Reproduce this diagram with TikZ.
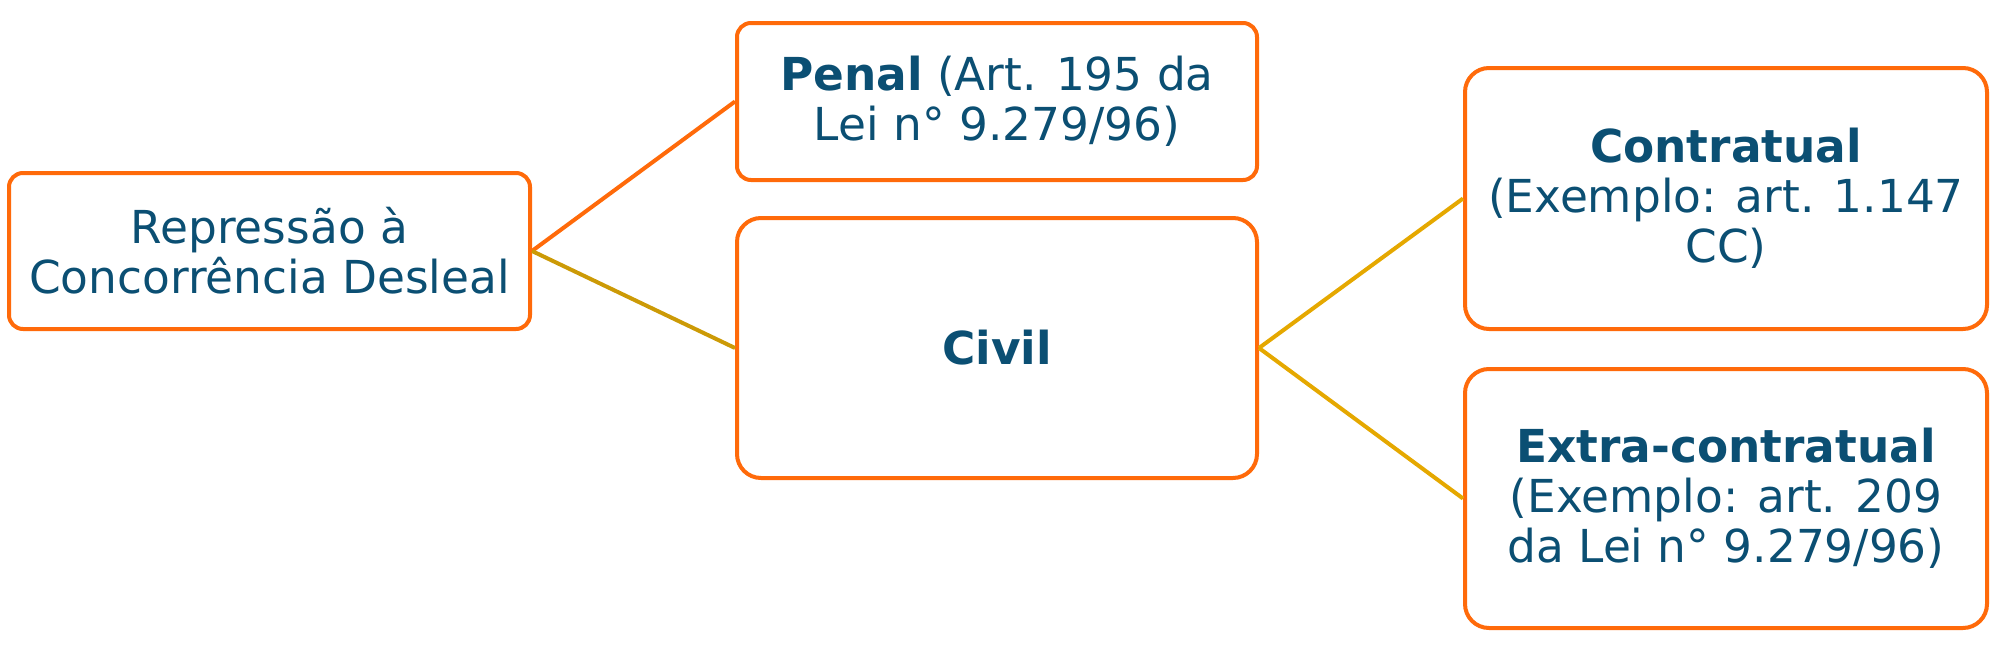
\documentclass[tikz,border=0pt]{standalone}
\usepackage{fontspec}
\setmainfont{DejaVu Sans}
\definecolor{boxorange}{HTML}{FF6A0A}
\definecolor{txtblue}{HTML}{0B4F73}
\definecolor{lineA}{HTML}{CC9A06}
\definecolor{lineB}{HTML}{E5A800}
\tikzset{
  px/.style={x=0.5pt,y=-0.5pt},
  box/.style={draw=boxorange,line width=2pt,fill=white,align=center,text=txtblue,
    font=\fontsize{22.7}{25}\selectfont,inner sep=0pt},
  smallbox/.style={box,rounded corners=7pt},
  bigbox/.style={box,rounded corners=12pt},
  conn/.style={line width=2pt}
}
\begin{document}
\begin{tikzpicture}[px]
\useasboundingbox (0,0) rectangle (2014,653);
\node[smallbox,minimum width=260.5pt,minimum height=78pt] (rep) at (269.5,251)
  {Repressão à\\Concorrência Desleal};
\node[smallbox,minimum width=260pt,minimum height=78.5pt] (pen) at (997,101.5)
  {\textbf{Penal} (Art. 195 da\\Lei n° 9.279/96)};
\node[bigbox,minimum width=260pt,minimum height=130pt] (civ) at (997,348)
  {\textbf{Civil}};
\node[bigbox,minimum width=261pt,minimum height=130.5pt] (con) at (1726,198.5)
  {\textbf{Contratual}\\(Exemplo: art. 1.147\\CC)};
\node[bigbox,minimum width=261pt,minimum height=129.5pt] (ext) at (1726,498.5)
  {\textbf{Extra-contratual}\\(Exemplo: art. 209\\da Lei n° 9.279/96)};
\draw[conn,boxorange] (rep.east) -- (pen.west);
\draw[conn,lineA] (rep.east) -- (civ.west);
\draw[conn,lineB] (civ.east) -- (con.west);
\draw[conn,lineB] (civ.east) -- (ext.west);
\end{tikzpicture}
\end{document}
